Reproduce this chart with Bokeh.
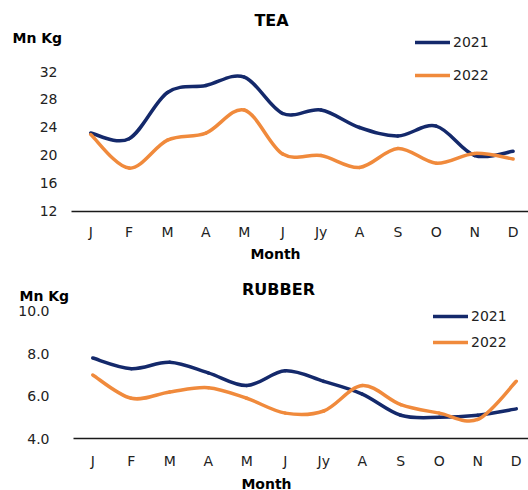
from bokeh.plotting import figure
from bokeh.models import (ColumnDataSource, Legend, LegendItem, Label, FixedTicker,
                          Range1d)
from bokeh.layouts import column
from bokeh.embed import file_html
from bokeh.resources import INLINE

months = ["J", "F", "M", "A", "M", "J", "Jy", "A", "S", "O", "N", "D"]
month_pos = list(range(1, 13))

tea_2021 = [23.2, 22.4, 29.0, 30.0, 31.2, 26.0, 26.5, 24.0, 22.8, 24.2, 20.0, 20.6]
tea_2022 = [23.0, 18.2, 22.2, 23.2, 26.5, 20.2, 20.0, 18.3, 21.0, 18.9, 20.3, 19.5]
tea_ticks = [12, 16, 20, 24, 28, 32]

rubber_2021 = [7.8, 7.3, 7.6, 7.1, 6.5, 7.2, 6.7, 6.1, 5.1, 5.0, 5.1, 5.4]
rubber_2022 = [7.0, 5.9, 6.2, 6.4, 5.9, 5.2, 5.3, 6.5, 5.6, 5.2, 4.9, 6.7]
rubber_ticks = [4.0, 6.0, 8.0, 10.0]

NAVY = "#14296B"
ORANGE = "#F08A3C"
FONT = "DejaVu Sans"


def bezier_source(xs, ys):
    # Catmull-Rom style control points for a smooth line through the data
    n = len(xs)
    d = dict(x0=[], y0=[], x1=[], y1=[], cx0=[], cy0=[], cx1=[], cy1=[])
    t = 1.0 / 6.0
    for i in range(n - 1):
        p0 = (xs[max(i - 1, 0)], ys[max(i - 1, 0)])
        p1 = (xs[i], ys[i])
        p2 = (xs[i + 1], ys[i + 1])
        p3 = (xs[min(i + 2, n - 1)], ys[min(i + 2, n - 1)])
        d["x0"].append(p1[0]); d["y0"].append(p1[1])
        d["x1"].append(p2[0]); d["y1"].append(p2[1])
        d["cx0"].append(p1[0] + (p2[0] - p0[0]) * t)
        d["cy0"].append(p1[1] + (p2[1] - p0[1]) * t)
        d["cx1"].append(p2[0] - (p3[0] - p1[0]) * t)
        d["cy1"].append(p2[1] - (p3[1] - p1[1]) * t)
    return ColumnDataSource(d)


def make_chart(title, s21, s22, ticks, xrange, yrange, height, axis_x0, axis_y0, fmt,
               title_pos, mnkg_pos, month_lbl_pos, legend_loc, legend_spacing,
               ylab_standoff, xlab_standoff):
    p = figure(width=528, height=height, output_backend="svg", toolbar_location=None,
               title=None, x_range=Range1d(*xrange), y_range=Range1d(*yrange),
               min_border=0, min_border_top=0, min_border_bottom=0, min_border_left=0,
               min_border_right=0, outline_line_color=None)
    p.xgrid.visible = False
    p.ygrid.visible = False

    r1 = p.bezier(source=bezier_source(month_pos, s21), x0="x0", y0="y0", x1="x1", y1="y1",
                  cx0="cx0", cy0="cy0", cx1="cx1", cy1="cy1",
                  line_color=NAVY, line_width=3.5, line_cap="round")
    r2 = p.bezier(source=bezier_source(month_pos, s22), x0="x0", y0="y0", x1="x1", y1="y1",
                  cx0="cx0", cy0="cy0", cx1="cx1", cy1="cy1",
                  line_color=ORANGE, line_width=3.5, line_cap="round")

    # x axis, drawn inside the frame at the bottom of the value range
    xa = p.xaxis[0]
    xa.fixed_location = axis_y0
    xa.bounds = (axis_x0, xrange[1])
    xa.ticker = FixedTicker(ticks=month_pos)
    xa.major_label_overrides = {i: m for i, m in zip(month_pos, months)}
    xa.major_tick_line_color = None
    xa.minor_tick_line_color = None
    xa.major_tick_out = 0
    xa.major_tick_in = 0
    xa.axis_line_color = "#1a1a1a"
    xa.axis_line_width = 1.3
    xa.major_label_text_font = FONT
    xa.major_label_text_font_size = "14px"
    xa.major_label_text_color = "#222222"
    xa.major_label_standoff = xlab_standoff

    # y axis
    ya = p.yaxis[0]
    ya.fixed_location = axis_x0
    ya.ticker = FixedTicker(ticks=ticks)
    if fmt:
        ya.major_label_overrides = {t: fmt.format(t) for t in ticks}
    ya.axis_line_color = None
    ya.major_tick_line_color = None
    ya.minor_tick_line_color = None
    ya.major_tick_out = 0
    ya.major_tick_in = 0
    ya.major_label_text_font = FONT
    ya.major_label_text_font_size = "14px"
    ya.major_label_text_color = "#222222"
    ya.major_label_standoff = ylab_standoff

    p.add_layout(Label(x=title_pos[0], y=title_pos[1], x_units="screen", y_units="screen",
                       text=title, text_font=FONT, text_font_style="bold",
                       text_font_size="16px", text_align="center", text_baseline="middle",
                       text_color="#000000"))
    p.add_layout(Label(x=mnkg_pos[0], y=mnkg_pos[1], x_units="screen", y_units="screen",
                       text="Mn Kg", text_font=FONT, text_font_style="bold",
                       text_font_size="14px", text_align="left", text_baseline="middle",
                       text_color="#000000"))
    p.add_layout(Label(x=month_lbl_pos[0], y=month_lbl_pos[1], x_units="screen",
                       y_units="screen", text="Month", text_font=FONT,
                       text_font_style="bold", text_font_size="14px", text_align="center",
                       text_baseline="middle", text_color="#000000"))

    legend = Legend(items=[LegendItem(label="2021", renderers=[r1]),
                           LegendItem(label="2022", renderers=[r2])],
                    location=legend_loc, glyph_width=35, glyph_height=20, label_height=20,
                    spacing=legend_spacing, padding=0, margin=0, label_standoff=3,
                    label_text_font=FONT, label_text_font_size="14px",
                    label_text_color="#222222", border_line_color=None,
                    background_fill_alpha=0)
    p.add_layout(legend)
    return p


p1 = make_chart("TEA", tea_2021, tea_2022, tea_ticks,
                xrange=(-1.349, 12.401), yrange=(4.714, 42.143), height=262,
                axis_x0=0.5, axis_y0=12, fmt=None,
                title_pos=(271, 242), mnkg_pos=(12, 225), month_lbl_pos=(275, 9),
                legend_loc=(415, 177), legend_spacing=13,
                ylab_standoff=14, xlab_standoff=13)
p2 = make_chart("RUBBER", rubber_2021, rubber_2022, rubber_ticks,
                xrange=(-1.396, 12.318), yrange=(1.544, 12.314), height=228,
                axis_x0=0.5, axis_y0=4.0, fmt="{:.1f}",
                title_pos=(278, 201), mnkg_pos=(19, 195), month_lbl_pos=(266, 7),
                legend_loc=(433, 138), legend_spacing=6,
                ylab_standoff=24, xlab_standoff=14)

layout = column(p1, p2, spacing=0)
open("out.html", "w").write(file_html(layout, INLINE))
